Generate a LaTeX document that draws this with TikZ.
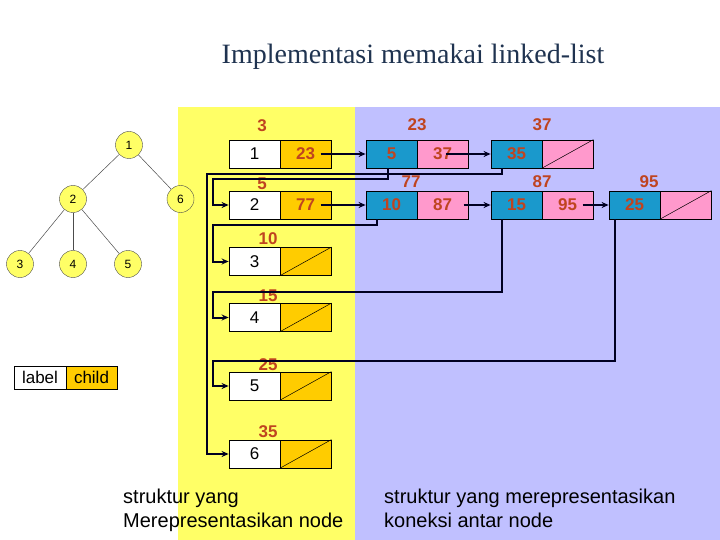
\documentclass[tikz,border=0pt]{standalone}
\usepackage{fontspec}
\setmainfont{Liberation Serif}
\newfontfamily\arialf{Liberation Sans}
\usetikzlibrary{arrows.meta,calc}
\definecolor{panY}{HTML}{FFFF66}
\definecolor{panB}{HTML}{C0C0FF}
\definecolor{cellO}{HTML}{FFCC00}
\definecolor{cellB}{HTML}{1A99CC}
\definecolor{cellP}{HTML}{FF99CC}
\definecolor{lblc}{HTML}{BF4420}
\definecolor{ttl}{HTML}{1F3350}
\definecolor{linec}{HTML}{000022}
\tikzset{
  cellbase/.style={draw=black, line width=0.8pt, minimum width=51pt, minimum height=28pt, inner sep=0pt, font=\arialf\fontsize{17}{17}\selectfont},
  wcell/.style={cellbase, fill=white, text=black},
  ocell/.style={cellbase, fill=cellO, text=lblc, font=\arialf\bfseries\fontsize{17}{17}\selectfont},
  bcell/.style={cellbase, fill=cellB, text=lblc, font=\arialf\bfseries\fontsize{17}{17}\selectfont},
  pcell/.style={cellbase, fill=cellP, text=lblc, font=\arialf\bfseries\fontsize{17}{17}\selectfont},
  toplbl/.style={text=lblc, font=\arialf\bfseries\fontsize{17}{17}\selectfont, inner sep=0pt},
  tnode/.style={circle, draw=black!70, fill=panY, minimum size=27pt, inner sep=0pt, font=\arialf\fontsize{12}{12}\selectfont},
  tedge/.style={draw=black!70, line width=0.5pt},
  conn/.style={draw=linec, line width=2pt},
  arr/.style={conn, -{Stealth[length=7pt,width=6pt]}},
  slash/.style={draw=black, line width=0.5pt},
  bottxt/.style={font=\arialf\fontsize{20}{24}\selectfont, align=left, anchor=north west, inner sep=0pt}
}
\begin{document}
\begin{tikzpicture}[x=1pt,y=-1pt]
\useasboundingbox (0,0) rectangle (720,540);
\fill[white] (0,0) rectangle (720,540);
% panels
\fill[panY] (178,107) rectangle (355,540);
\fill[panB] (355,107) rectangle (720,540);
% title
\node[text=ttl, font=\fontsize{28}{28}\selectfont] (title) at (413,57) {Implementasi memakai linked-list};
% tree
\node[tnode] (t1) at (129,145) {1};
\node[tnode] (t2) at (73,199) {2};
\node[tnode] (t6) at (180.5,199) {6};
\node[tnode] (t3) at (20,264) {3};
\node[tnode] (t4) at (73,264) {4};
\node[tnode] (t5) at (128,264) {5};
\draw[tedge] (t1) -- (t2);
\draw[tedge] (t1) -- (t6);
\draw[tedge] (t2) -- (t3);
\draw[tedge] (t2) -- (t4);
\draw[tedge] (t2) -- (t5);
% legend
\node[wcell, minimum width=52pt, minimum height=23pt] (lg1) at (40,377.5) {label};
\node[ocell, minimum width=51pt, minimum height=23pt, text=black, font=\arialf\fontsize{17}{17}\selectfont] (lg2) at (91.5,377.5) {child};
% left boxes
\node[wcell] (L1a) at (254.5,154) {1};
\node[ocell] (L1b) at (305.5,154) {23};
\node[wcell] (L2a) at (254.5,205) {2};
\node[ocell] (L2b) at (305.5,205) {77};
\node[wcell] (L3a) at (254.5,261.5) {3};
\node[ocell] (L3b) at (305.5,261.5) {};
\node[wcell] (L4a) at (254.5,317.5) {4};
\node[ocell] (L4b) at (305.5,317.5) {};
\node[wcell] (L5a) at (254.5,386) {5};
\node[ocell] (L5b) at (305.5,386) {};
\node[wcell] (L6a) at (254.5,454) {6};
\node[ocell] (L6b) at (305.5,454) {};
\foreach \c in {L3b,L4b,L5b,L6b} {\draw[slash] (\c.south west) -- (\c.north east);}
\node[toplbl] (l1) at (262,126) {3};
\node[toplbl] (l2) at (262,184) {5};
\node[toplbl] (l3) at (268,239) {10};
\node[toplbl] (l4) at (268,296) {15};
\node[toplbl] (l5) at (268,365) {25};
\node[toplbl] (l6) at (268,432) {35};
% blue boxes
\node[bcell] (B1a) at (391.5,154) {5};
\node[pcell] (B1b) at (442.5,154) {37};
\node[bcell] (B2a) at (516.5,154) {35};
\node[pcell] (B2b) at (567.5,154) {};
\node[bcell] (B3a) at (391.5,205) {10};
\node[pcell] (B3b) at (442.5,205) {87};
\node[bcell] (B4a) at (516.5,205) {15};
\node[pcell] (B4b) at (567.5,205) {95};
\node[bcell] (B5a) at (634.5,205) {25};
\node[pcell] (B5b) at (685.5,205) {};
\foreach \c in {B2b,B5b} {\draw[slash] (\c.south west) -- (\c.north east);}
\node[toplbl] (b1) at (417,125) {23};
\node[toplbl] (b2) at (542,125) {37};
\node[toplbl] (b3) at (411,182) {77};
\node[toplbl] (b4) at (542,182) {87};
\node[toplbl] (b5) at (649,182) {95};
% forward arrows
\draw[arr] ([xshift=15pt]L1b.center) -- (B1a.west);
\draw[arr] ([xshift=15pt]L2b.center) -- (B3a.west);
\draw[arr] ([xshift=3pt]B1b.center) -- (B2a.west);
\draw[arr] ([xshift=21pt]B3b.center) -- (B4a.west);
\draw[arr] ([xshift=15pt]B4b.center) -- (B5a.west);
% return connectors
\draw[arr] ([xshift=-3.5pt]B1a.south) -- ++(0,11) -| ([xshift=-16pt]L2a.west) -- (L2a.west);
\draw[arr] ([xshift=-14.5pt]B2a.south) -- ++(0,6) -| ([xshift=-22pt]L6a.west) -- (L6a.west);
\draw[arr] ([xshift=-14.5pt]B3a.south) -- ++(0,6) -| ([xshift=-16pt]L3a.west) -- (L3a.west);
\draw[arr] ([xshift=-14.5pt]B4a.south) -- ++(0,73) -| ([xshift=-16pt]L4a.west) -- (L4a.west);
\draw[arr] ([xshift=-19.5pt]B5a.south) -- ++(0,142) -| ([xshift=-16pt]L5a.west) -- (L5a.west);
% bottom texts
\node[bottxt] (bt1) at (123,489) {struktur yang\\Merepresentasikan node};
\node[bottxt] (bt2) at (384,489) {struktur yang merepresentasikan\\koneksi antar node};
\end{tikzpicture}
\end{document}
